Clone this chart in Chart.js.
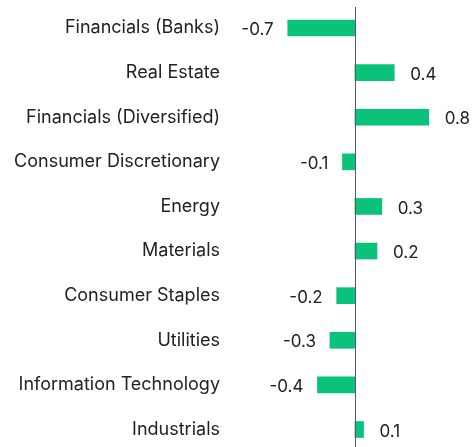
<!DOCTYPE html>
<html>
<head>
<meta charset="utf-8">
<script src="https://cdn.jsdelivr.net/npm/chart.js@4/dist/chart.umd.min.js"></script>
<style>
  html, body { margin: 0; padding: 0; background: #fff; }
  #wrap { width: 472px; height: 447px; position: relative; }
</style>
</head>
<body>
<div id="wrap"><canvas id="myChart"></canvas></div>
<script>
"use strict";

var sectors = [
  "Financials (Banks)",
  "Real Estate",
  "Financials (Diversified)",
  "Consumer Discretionary",
  "Energy",
  "Materials",
  "Consumer Staples",
  "Utilities",
  "Information Technology",
  "Industrials"
];
// bar lengths
var values = [-0.70, 0.41, 0.77, -0.13, 0.28, 0.23, -0.19, -0.26, -0.39, 0.09];
// printed labels
var valueLabels = ["-0.7", "0.4", "0.8", "-0.1", "0.3", "0.2", "-0.2", "-0.3", "-0.4", "0.1"];

var barColor = "#0bc27b";
var textColor = "#222222";
var fontFamily = "Inter, 'Noto Sans', sans-serif";

// zero line + value labels
var extrasPlugin = {
  id: "extras",
  afterDatasetsDraw: function (chart) {
    var ctx = chart.ctx;
    var x0 = Math.round(chart.scales.x.getPixelForValue(0)) + 0.5;
    ctx.save();
    ctx.strokeStyle = "#5a5a5a";
    ctx.lineWidth = 1;
    ctx.beginPath();
    ctx.moveTo(x0, 7);
    ctx.lineTo(x0, chart.height);
    ctx.stroke();

    ctx.fillStyle = textColor;
    ctx.font = "17px " + fontFamily;
    ctx.textBaseline = "middle";
    var meta = chart.getDatasetMeta(0);
    meta.data.forEach(function (bar, i) {
      var v = values[i];
      if (v >= 0) {
        ctx.textAlign = "left";
        ctx.fillText(valueLabels[i], bar.x + 16, bar.y + 2);
      } else {
        ctx.textAlign = "right";
        ctx.fillText(valueLabels[i], bar.x - 14, bar.y + 2);
      }
    });
    ctx.restore();
  }
};

var ctx = document.getElementById("myChart").getContext("2d");
var chart = new Chart(ctx, {
  type: "bar",
  data: {
    labels: sectors,
    datasets: [
      {
        data: values,
        backgroundColor: barColor,
        borderWidth: 0,
        barThickness: 16,
        clip: false
      }
    ]
  },
  options: {
    indexAxis: "y",
    responsive: true,
    maintainAspectRatio: false,
    animation: false,
    layout: { padding: { top: 28, bottom: 17.5, left: 0, right: 0 } },
    plugins: {
      legend: { display: false },
      tooltip: { enabled: false }
    },
    scales: {
      x: {
        display: false,
        min: -1.26,
        max: 1.22
      },
      y: {
        offset: false,
        grid: { display: false, drawTicks: false },
        border: { display: false },
        afterFit: function (scale) {
          scale.width = 234;
          scale.paddingTop = 0;
          scale.paddingBottom = 0;
        },
        ticks: {
          padding: 14,
          color: textColor,
          font: { family: fontFamily, size: 18 }
        }
      }
    }
  },
  plugins: [extrasPlugin]
});
</script>
</body>
</html>
